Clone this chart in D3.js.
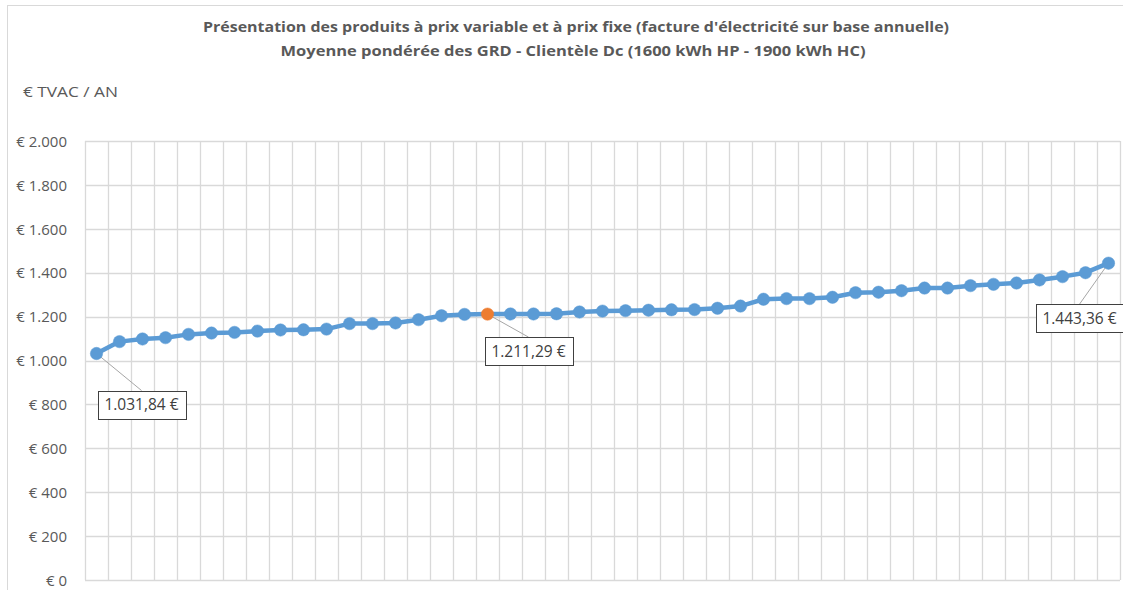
<!DOCTYPE html>
<html>
<head>
<meta charset="utf-8">
<script src="https://cdn.jsdelivr.net/npm/d3@7"></script>
<style>
  html, body { margin: 0; padding: 0; background: #fff; }
  svg { display: block; }
</style>
</head>
<body>
<svg id="chart" width="1123" height="590"></svg>
<script>
// ---- data ----
const categories = ["1","2","3","4","5","6","7","8","9","10","11","12","13","14","15",
  "16","17","18","19","20","21","22","23","24","25","26","27","28","29","30",
  "31","32","33","34","35","36","37","38","39","40","41","42","43","44","45"];
const values = [1031.84, 1086, 1098, 1104, 1119, 1125, 1128, 1134, 1139, 1140,
  1143, 1168, 1168, 1171, 1186, 1204, 1210, 1211.29, 1212, 1212,
  1213, 1221, 1225, 1227, 1229, 1231, 1232, 1238, 1248, 1279,
  1282, 1282, 1288, 1309, 1311, 1318, 1330, 1330, 1341, 1347,
  1353, 1367, 1382, 1400, 1443.36];
const yTicks = [0, 200, 400, 600, 800, 1000, 1200, 1400, 1600, 1800, 2000];
const highlightIndex = 17;
const labelIndices = [0, 17, 44];
const labelTexts = ["1.031,84 €", "1.211,29 €", "1.443,36 €"];
const titleLines = [
  "Présentation des produits à prix variable et à prix fixe (facture d'électricité sur base annuelle)",
  "Moyenne pondérée des GRD - Clientèle Dc (1600 kWh HP - 1900 kWh HC)"
];
const yAxisTitle = "€ TVAC / AN";

(function () {
// ---- layout ----
const svg = d3.select("#chart");
const pLeft = 85, pRight = 1120, pTop = 141, pBottom = 580;
const font = "'Open Sans', 'DejaVu Sans', sans-serif";
const textColor = "#595959";

// outer chart frame
svg.append("rect").attr("x", 7.5).attr("y", 5.5).attr("width", 1130).attr("height", 600)
  .attr("fill", "#fff").attr("stroke", "#d9d9d9").attr("stroke-width", 1);

const x = d3.scaleBand().domain(categories).range([pLeft, pRight]).padding(0);
const y = d3.scaleLinear().domain([0, 2000]).range([pBottom, pTop]);

// gridlines
const grid = svg.append("g");
grid.selectAll("line.h").data(yTicks).join("line")
  .attr("x1", pLeft).attr("x2", pRight)
  .attr("y1", d => Math.round(y(d)) + 0.5).attr("y2", d => Math.round(y(d)) + 0.5)
  .attr("stroke", "#d9d9d9").attr("stroke-width", 1.3);
const vEdges = categories.map(c => x(c)).concat([pRight]);
grid.selectAll("line.v").data(vEdges).join("line")
  .attr("x1", d => Math.round(d) + 0.5).attr("x2", d => Math.round(d) + 0.5)
  .attr("y1", pTop).attr("y2", pBottom)
  .attr("stroke", "#d9d9d9").attr("stroke-width", 1.3);

// y axis labels
const yAxis = d3.axisLeft(y).tickValues(yTicks).tickSize(0).tickPadding(0)
  .tickFormat(d => "€ " + d3.format(",")(d).replace(/,/g, "."));
const ya = svg.append("g").attr("transform", `translate(67,0)`).call(yAxis);
ya.select(".domain").remove();
ya.selectAll("text").attr("font-family", font).attr("font-size", 15)
  .attr("fill", textColor).attr("dy", "0.35em");

// titles
svg.append("text").attr("x", 576).attr("y", 32).attr("text-anchor", "middle")
  .attr("font-family", font).attr("font-weight", "bold").attr("font-size", 14)
  .attr("fill", textColor).attr("textLength", 746).attr("lengthAdjust", "spacingAndGlyphs")
  .text(titleLines[0]);
svg.append("text").attr("x", 573).attr("y", 56).attr("text-anchor", "middle")
  .attr("font-family", font).attr("font-weight", "bold").attr("font-size", 14)
  .attr("fill", textColor).attr("textLength", 585).attr("lengthAdjust", "spacingAndGlyphs")
  .text(titleLines[1]);
svg.append("text").attr("x", 23).attr("y", 97)
  .attr("font-family", font).attr("font-size", 14.5).attr("fill", textColor)
  .attr("textLength", 95).attr("lengthAdjust", "spacingAndGlyphs")
  .text(yAxisTitle);

// line
const cx = (c) => x(c) + x.bandwidth() / 2;
const line = d3.line().x((d, i) => cx(categories[i])).y(d => y(d));
svg.append("path").datum(values).attr("d", line)
  .attr("fill", "none").attr("stroke", "#5b9bd5").attr("stroke-width", 4.5)
  .attr("stroke-linejoin", "round");

// leader lines & labels (offsets relative to the point)
const labelOffsets = [[45, 37], [41, 23], [-29, 41]];
const lbl = svg.append("g");
labelIndices.forEach((idx, k) => {
  const px = cx(categories[idx]), py = y(values[idx]);
  const bx = px + labelOffsets[k][0], by = py + labelOffsets[k][1];
  lbl.append("line").attr("x1", px).attr("y1", py).attr("x2", bx).attr("y2", by)
    .attr("stroke", "#a6a6a6").attr("stroke-width", 1);
});

// markers
svg.append("g").selectAll("circle").data(values).join("circle")
  .attr("cx", (d, i) => cx(categories[i])).attr("cy", d => y(d)).attr("r", 6.2)
  .attr("fill", (d, i) => i === highlightIndex ? "#ed7d31" : "#5b9bd5")
  .attr("stroke", (d, i) => i === highlightIndex ? "#ed7d31" : "#5b9bd5").attr("stroke-width", 0.5);

labelIndices.forEach((idx, k) => {
  const px = cx(categories[idx]), py = y(values[idx]);
  const bx = px + labelOffsets[k][0], by = py + labelOffsets[k][1];
  const w = 88, h = 28;
  lbl.append("rect").attr("x", Math.round(bx - w / 2) + 0.5).attr("y", Math.round(by) + 0.5)
    .attr("width", w).attr("height", h).attr("fill", "#fff").attr("stroke", "#404040").attr("stroke-width", 1);
  lbl.append("text").attr("x", bx).attr("y", by + h / 2).attr("dy", "0.35em")
    .attr("text-anchor", "middle").attr("font-family", font).attr("font-size", 15.5)
    .attr("fill", "#404040").text(labelTexts[k]);
});
})();
</script>
</body>
</html>
